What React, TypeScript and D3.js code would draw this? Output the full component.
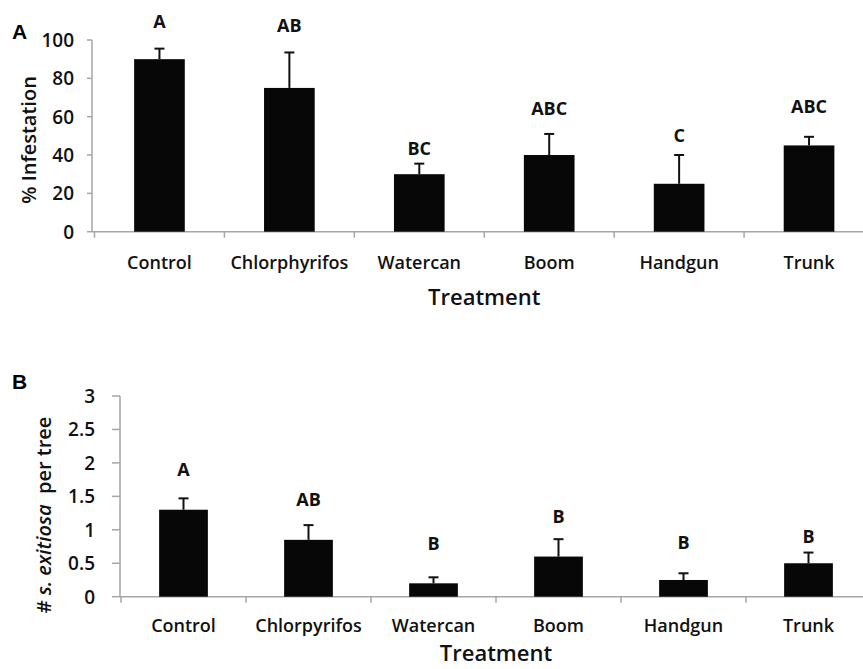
import { useMemo } from "react";
import * as d3 from "d3";

// treatments (panel A spells it "Chlorphyrifos", panel B "Chlorpyrifos")
const treatmentsA = ["Control", "Chlorphyrifos", "Watercan", "Boom", "Handgun", "Trunk"];
const treatmentsB = ["Control", "Chlorpyrifos", "Watercan", "Boom", "Handgun", "Trunk"];

// panel A: % infestation
const infestMean = [90, 75, 30, 40, 25, 45];
const infestUpper = [95.5, 93.5, 35.5, 51, 40, 49.5];
const infestLetters = ["A", "AB", "BC", "ABC", "C", "ABC"];
const infestLetterAt = [106, 104, 40, 61, 47, 62];
const infestTicks = [0, 20, 40, 60, 80, 100];

// panel B: # S. exitiosa per tree
const larvaeMean = [1.3, 0.85, 0.2, 0.6, 0.25, 0.5];
const larvaeUpper = [1.47, 1.07, 0.29, 0.86, 0.35, 0.66];
const larvaeLetters = ["A", "AB", "B", "B", "B", "B"];
const larvaeLetterAt = [1.81, 1.35, 0.7, 1.1, 0.72, 0.8];
const larvaeTicks = [0, 0.5, 1, 1.5, 2, 2.5, 3];

const W = 863;
const H = 669;
const FONT = "'Open Sans', sans-serif";
const AXIS = "#a6a6a6";

type PanelProps = {
  cats: string[];
  mean: number[];
  upper: number[];
  letters: string[];
  letterAt: number[];
  ticks: number[];
  domain: [number, number];
  yAxisX: number;
  x0: number;
  x1: number;
  yTop: number;
  yBottom: number;
  tickLabelX: number;
  tickLen: number;
  catLabelY: number;
  titleY: number;
};

function Panel(p: PanelProps) {
  const x = useMemo(() => d3.scaleBand<string>().domain(p.cats).range([p.x0, p.x1]).padding(0), [p]);
  const y = useMemo(() => d3.scaleLinear().domain(p.domain).range([p.yBottom, p.yTop]), [p]);
  const barW = x.bandwidth() * 0.39;
  const edges = p.cats.map((c) => x(c)!);

  return (
    <g>
      {/* y axis */}
      <line x1={p.yAxisX} x2={p.yAxisX} y1={y(p.domain[1])} y2={y(0)} stroke={AXIS} strokeWidth={1.5} />
      {p.ticks.map((t) => (
        <g key={t}>
          <line x1={p.yAxisX - p.tickLen} x2={p.yAxisX} y1={y(t)} y2={y(t)} stroke={AXIS} strokeWidth={1.5} />
          <text x={p.tickLabelX} y={y(t)} dy="0.36em" textAnchor="end" fontSize={19} fontWeight={600} fill="#111">
            {String(t)}
          </text>
        </g>
      ))}

      {/* x axis */}
      <line x1={p.yAxisX} x2={W} y1={y(0)} y2={y(0)} stroke={AXIS} strokeWidth={1.5} />
      {edges.map((e, i) => (
        <line key={i} x1={e} x2={e} y1={y(0)} y2={y(0) + 6} stroke={AXIS} strokeWidth={1.5} />
      ))}

      {/* bars + error bars */}
      {p.cats.map((c, i) => {
        const cx = x(c)! + x.bandwidth() / 2;
        return (
          <g key={c}>
            <rect x={cx - barW / 2} y={y(p.mean[i])} width={barW} height={y(0) - y(p.mean[i])} fill="#070707" />
            <line x1={cx} x2={cx} y1={y(p.mean[i])} y2={y(p.upper[i])} stroke="#111" strokeWidth={2} />
            <line x1={cx - 5} x2={cx + 5} y1={y(p.upper[i])} y2={y(p.upper[i])} stroke="#111" strokeWidth={2} />
            <text x={cx} y={y(p.letterAt[i])} textAnchor="middle" fontSize={18} fontWeight={700} fill="#111">
              {p.letters[i]}
            </text>
            <text x={cx} y={p.catLabelY} textAnchor="middle" fontSize={18} fontWeight={600} fill="#111">
              {c}
            </text>
          </g>
        );
      })}

      <text x={(p.x0 + p.x1) / 2} y={p.titleY} textAnchor="middle" fontSize={22} fontWeight={600} fill="#111">
        Treatment
      </text>
    </g>
  );
}

export default function App() {
  return (
    <svg width={W} height={H} style={{ position: "absolute", left: 0, top: 0, background: "#fff" }} fontFamily={FONT}>
      <text x={12} y={39} fontSize={21} fontWeight={700} fontFamily="'Liberation Sans', Arial, sans-serif">A</text>
      <text x={12} y={389} fontSize={21} fontWeight={700} fontFamily="'Liberation Sans', Arial, sans-serif">B</text>

      <text transform="translate(28,140) rotate(-90)" textAnchor="middle" dominantBaseline="central" fontSize={20} fontWeight={600} fill="#111">
        % Infestation
      </text>
      <text transform="translate(43,515) rotate(-90)" textAnchor="middle" dominantBaseline="central" fontSize={20} fontWeight={600} fill="#111" style={{ whiteSpace: "pre" }}>
        {"# "}<tspan fontStyle="italic">s. exitiosa</tspan>{"  per tree"}
      </text>

      <Panel
        cats={treatmentsA}
        mean={infestMean}
        upper={infestUpper}
        letters={infestLetters}
        letterAt={infestLetterAt}
        ticks={infestTicks}
        domain={[0, 100]}
        yAxisX={92}
        x0={94.5}
        x1={874}
        yTop={40}
        yBottom={231.7}
        tickLabelX={74}
        tickLen={5}
        catLabelY={269}
        titleY={305}
      />
      <Panel
        cats={treatmentsB}
        mean={larvaeMean}
        upper={larvaeUpper}
        letters={larvaeLetters}
        letterAt={larvaeLetterAt}
        ticks={larvaeTicks}
        domain={[0, 3]}
        yAxisX={120}
        x0={121}
        x1={871}
        yTop={396}
        yBottom={596.7}
        tickLabelX={95}
        tickLen={8}
        catLabelY={632}
        titleY={661}
      />
    </svg>
  );
}
